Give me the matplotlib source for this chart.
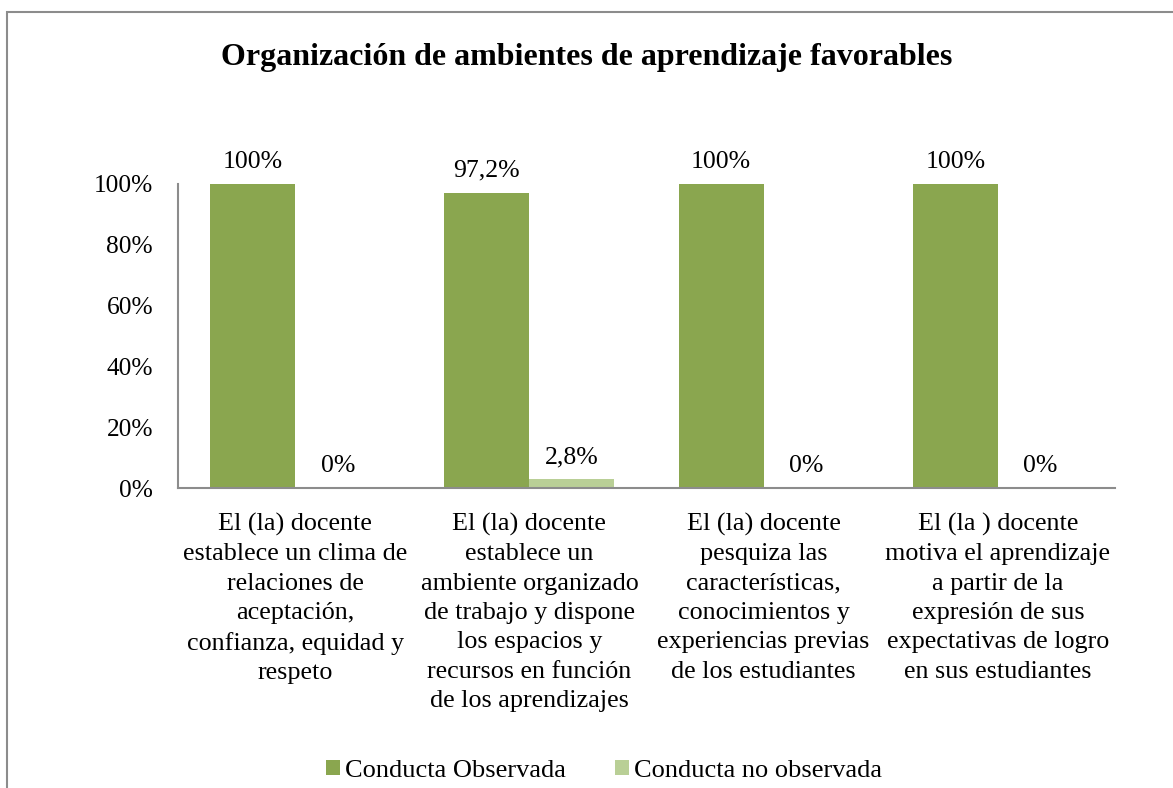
import matplotlib.pyplot as plt
from matplotlib.patches import Rectangle
import numpy as np

plt.rcParams['font.family'] = ['Liberation Serif', 'DejaVu Serif']

categorias = [
    'El (la) docente\nestablece un clima de\nrelaciones de\naceptación,\nconfianza, equidad y\nrespeto',
    'El (la) docente\nestablece un\nambiente organizado\nde trabajo y dispone\nlos espacios y\nrecursos en función\nde los aprendizajes',
    'El (la) docente\npesquiza las\ncaracterísticas,\nconocimientos y\nexperiencias previas\nde los estudiantes',
    'El (la ) docente\nmotiva el aprendizaje\na partir de la\nexpresión de sus\nexpectativas de logro\nen sus estudiantes',
]
observada = [100, 97.2, 100, 100]
no_observada = [0, 2.8, 0, 0]
etiq_obs = ['100%', '97,2%', '100%', '100%']
etiq_no = ['0%', '2,8%', '0%', '0%']
yticks = [0, 20, 40, 60, 80, 100]

fig = plt.figure(figsize=(11.73, 7.88), dpi=100)
ax = fig.add_axes([0.1518, 0.3807, 0.7988, 0.3858])

x = np.arange(len(categorias))
w = 0.363
b1 = ax.bar(x - w / 2, observada, w, color='#8AA64F', label='Conducta Observada')
b2 = ax.bar(x + w / 2, no_observada, w, color='#B9CF96', label='Conducta no observada')

for rect, t in zip(b1, etiq_obs):
    ax.annotate(t, (rect.get_x() + rect.get_width() / 2, rect.get_height()),
                xytext=(0, 8), textcoords='offset points', ha='center', va='bottom', fontsize=18.5)
for rect, t in zip(b2, etiq_no):
    ax.annotate(t, (rect.get_x() + rect.get_width() / 2, rect.get_height()),
                xytext=(0, 8), textcoords='offset points', ha='center', va='bottom', fontsize=18.5)

ax.set_xlim(-0.5, 3.5)
ax.set_ylim(0, 100)
ax.set_yticks(yticks)
ax.set_yticklabels([f'{v}%' for v in yticks], fontsize=18.3)
ax.set_xticks(x)
ax.set_xticklabels(categorias, fontsize=18.8, linespacing=1.43, va='top')
ax.tick_params(axis='both', length=0)
ax.tick_params(axis='y', pad=18)
ax.tick_params(axis='x', pad=18)
for s in ['top', 'right']:
    ax.spines[s].set_visible(False)
for s in ['left', 'bottom']:
    ax.spines[s].set_color('#8C8C8C')
    ax.spines[s].set_linewidth(1.5)

fig.text(0.5, 0.927, 'Organización de ambientes de aprendizaje favorables',
         ha='center', va='center', fontsize=23, fontweight='bold')

fig.legend(loc='center', bbox_to_anchor=(0.515, 0.022), ncol=2, frameon=False,
           fontsize=19, handlelength=0.53, handleheight=0.53, handletextpad=0.2,
           columnspacing=1.85)

fig.patches.append(Rectangle((7 / 1173, -0.05), 1.2, 1.05 - 12 / 788,
                             transform=fig.transFigure, fill=False,
                             edgecolor='#8C8C8C', linewidth=1.5))

fig.savefig('out.png', dpi=100)
